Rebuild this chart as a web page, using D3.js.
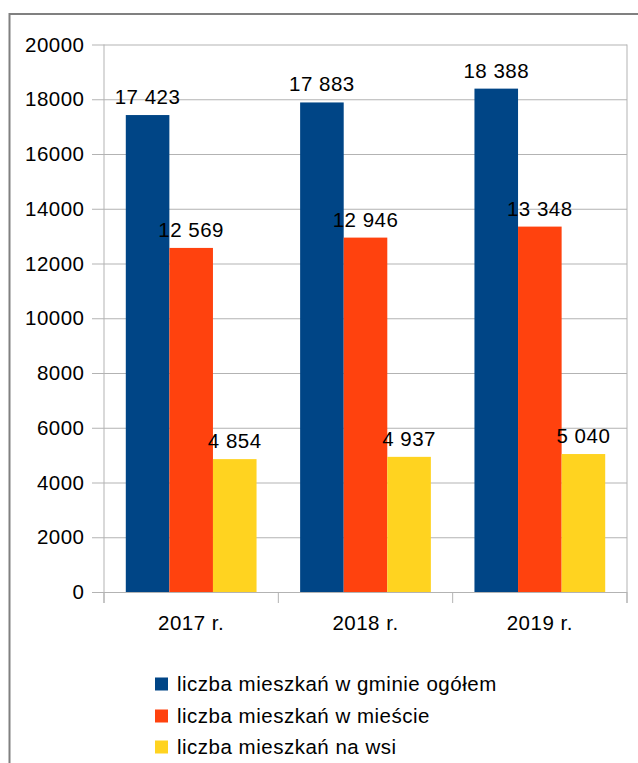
<!DOCTYPE html>
<html>
<head>
<meta charset="utf-8">
<script src="https://cdn.jsdelivr.net/npm/d3@7"></script>
<style>
  html, body { margin: 0; padding: 0; background: #fff; }
  svg { display: block; }
  text { font-family: "Liberation Sans", Arial, sans-serif; fill: #000; letter-spacing: 0.5px; }
</style>
</head>
<body>
<svg id="chart" width="638" height="763"></svg>
<script>
const categories = ["2017 r.", "2018 r.", "2019 r."];
const seriesNames = ["liczba mieszkań w gminie ogółem", "liczba mieszkań w mieście", "liczba mieszkań na wsi"];
const totalValues = [17423, 17883, 18388];
const cityValues = [12569, 12946, 13348];
const villageValues = [4854, 4937, 5040];
const yTicks = [0, 2000, 4000, 6000, 8000, 10000, 12000, 14000, 16000, 18000, 20000];
const colors = ["#004586", "#ff420e", "#ffd320"];

(function () {
const seriesValues = [totalValues, cityValues, villageValues];
const svg = d3.select("#chart");
const FS = 20.5;

// outer frame
svg.append("rect").attr("x", 9.5).attr("y", 14).attr("width", 640).attr("height", 760)
  .attr("fill", "none").attr("stroke", "#808080").attr("stroke-width", 2);

const pLeft = 104, pRight = 627, pTop = 44.5, pBottom = 592;
const x = d3.scaleBand().domain(categories).range([pLeft, pRight]).padding(0);
const bw = x.bandwidth();
const xs = d3.scaleBand().domain(d3.range(seriesNames.length)).range([bw * 0.125, bw * 0.875]).padding(0);
const y = d3.scaleLinear().domain([0, 20000]).range([pBottom, pTop]);

const fmt = v => d3.format(",")(v).replace(/,/g, " ");

// gridlines + y axis
const yAxis = d3.axisLeft(y).tickValues(yTicks).tickSize(12).tickFormat(d => d);
const gy = svg.append("g").attr("transform", `translate(${pLeft},0)`).call(yAxis);
gy.select(".domain").remove();
gy.selectAll(".tick line").attr("stroke", "#b3b3b3").attr("x1", -12).attr("x2", pRight - pLeft);
gy.selectAll(".tick text").attr("x", -19.5).attr("font-size", FS)
  .attr("font-family", "Liberation Sans, Arial, sans-serif").attr("fill", "#000");

// vertical axis lines
svg.append("line").attr("x1", pLeft).attr("x2", pLeft).attr("y1", pTop).attr("y2", pBottom + 11).attr("stroke", "#b3b3b3");
svg.append("line").attr("x1", pRight).attr("x2", pRight).attr("y1", pTop).attr("y2", pBottom + 11).attr("stroke", "#b3b3b3");

// x axis ticks between categories
const boundaries = categories.map(c => x(c)).concat([pRight]);
svg.selectAll(".xb").data(boundaries).enter().append("line")
  .attr("x1", d => d).attr("x2", d => d).attr("y1", pBottom).attr("y2", pBottom + 11).attr("stroke", "#b3b3b3");

// x labels
svg.selectAll(".xl").data(categories).enter().append("text")
  .attr("x", d => x(d) + bw / 2).attr("y", 630).attr("text-anchor", "middle").attr("font-size", FS).text(d => d);

// bars
seriesValues.forEach((vals, si) => {
  const g = svg.append("g");
  g.selectAll("rect").data(vals).enter().append("rect")
    .attr("x", (d, i) => x(categories[i]) + xs(si))
    .attr("y", d => y(d))
    .attr("width", xs.bandwidth())
    .attr("height", d => y(0) - y(d))
    .attr("fill", colors[si]);
});
// labels
seriesValues.forEach((vals, si) => {
  svg.append("g").selectAll("text").data(vals).enter().append("text")
    .attr("x", (d, i) => x(categories[i]) + xs(si) + xs.bandwidth() / 2)
    .attr("y", d => y(d) - 11)
    .attr("text-anchor", "middle").attr("font-size", FS).text(d => fmt(d));
});

// legend
const legY = [684, 716, 747];
seriesNames.forEach((n, i) => {
  svg.append("rect").attr("x", 155).attr("y", legY[i] - 6.5).attr("width", 13).attr("height", 13).attr("fill", colors[i]);
  svg.append("text").attr("x", 177).attr("y", legY[i]).attr("dy", "0.35em").attr("font-size", FS).text(n);
});
})();
</script>
</body>
</html>
